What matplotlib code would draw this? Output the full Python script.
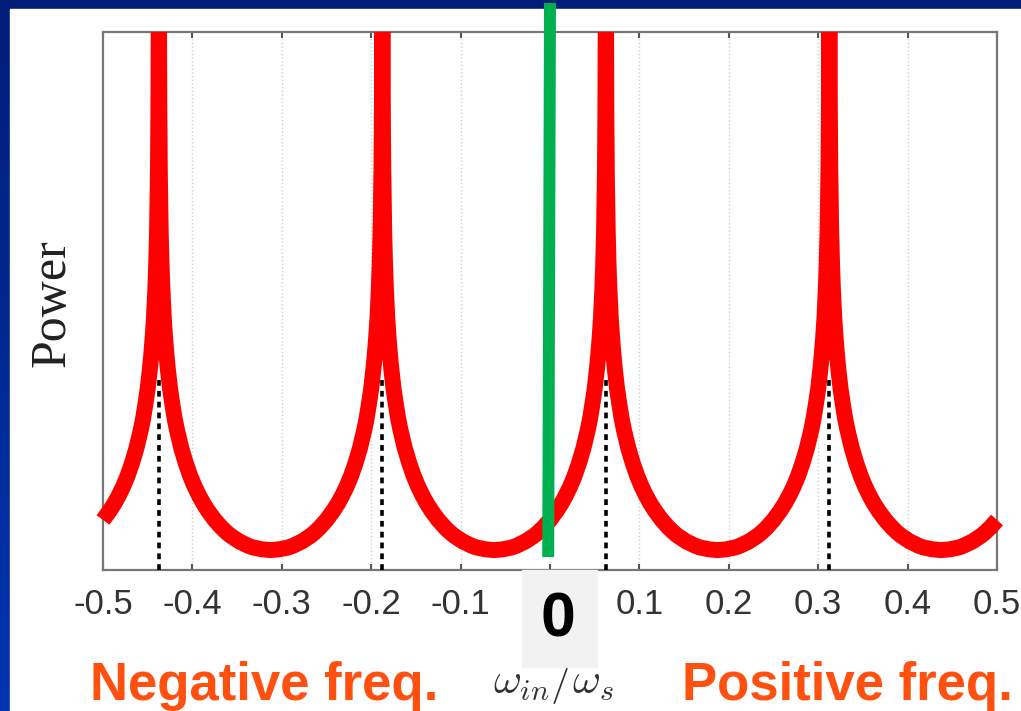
import numpy as np
import matplotlib
matplotlib.use("Agg")
import matplotlib.pyplot as plt
from matplotlib.patches import Rectangle

plt.rcParams['font.family'] = ['Liberation Sans', 'DejaVu Sans']
plt.rcParams['mathtext.fontset'] = 'cm'

# Peak positions (alias frequencies) and the spacing between them
peak_freqs = [-0.4375, -0.1875, 0.0625, 0.3125]
peak_spacing = 0.25

# Shape of one branch: distance from peak -> power (arb. units, 0..100)
branch_offset = [0.0, 0.0005, 0.001, 0.002, 0.003, 0.004, 0.0055, 0.007, 0.0085,
                 0.01, 0.0125, 0.015, 0.0175, 0.02, 0.025, 0.03, 0.035, 0.04,
                 0.045, 0.05, 0.055, 0.0625, 0.07, 0.075, 0.08, 0.09, 0.1,
                 0.105, 0.115, 0.125]
branch_power = [110, 85.7, 74.5, 63.2, 56.7, 52.0, 46.8, 43.1, 40.0,
                37.4, 33.7, 30.9, 28.3, 26.2, 22.7, 19.9, 17.5, 15.5,
                13.8, 12.3, 11.0, 9.3, 7.9, 7.1, 6.4, 5.3, 4.5,
                4.2, 3.85, 3.7]

# Height where the dotted markers stop
marker_top = 35.3

xticks = [-0.5, -0.4, -0.3, -0.2, -0.1, 0.0, 0.1, 0.2, 0.3, 0.4, 0.5]
# the centre label is covered by the grey "0" box on the slide
xticklabels = ['-0.5', '-0.4', '-0.3', '-0.2', '-0.1', '', '0.1', '0.2', '0.3', '0.4', '0.5']

# green "zero" marker (slightly slanted like on the slide)
zero_line_x = [0.0, -0.002]
zero_line_y = [105.4, 2.4]

# build the curve from the branch table, one mirrored branch per peak
pts = {}
off = np.array(branch_offset)
pw = np.array(branch_power)
for p in peak_freqs + [peak_freqs[-1] + peak_spacing]:
    for x, y in zip(np.concatenate([p - off, p + off]), np.concatenate([pw, pw])):
        x = round(float(x), 6)
        if -0.5 <= x <= 0.5:
            pts[x] = y
curve_x = np.array(sorted(pts))
curve_y = np.array([pts[x] for x in curve_x])

W, H = 1021, 711
fig = plt.figure(figsize=(W / 100, H / 100), dpi=100)

# slide background: blue gradient with a white panel
bg = fig.add_axes([0, 0, 1, 1], zorder=-10)
grad = np.linspace(0, 1, 256).reshape(-1, 1)
cmap = matplotlib.colors.LinearSegmentedColormap.from_list('slide', ['#001e78', '#0034b0'])
bg.imshow(grad, aspect='auto', cmap=cmap, extent=[0, 1, 0, 1])
bg.add_patch(Rectangle((10 / W, 0), 1, 1 - 9 / H, color='white', transform=bg.transAxes))
bg.set_xlim(0, 1)
bg.set_ylim(0, 1)
bg.axis('off')

ax = fig.add_axes([103 / W, 141 / H, 894 / W, 538 / H])
ax.set_xlim(-0.5, 0.5)
ax.set_ylim(0, 100)
ax.set_facecolor('white')

for x in xticks[1:-1]:
    ax.axvline(x, color='#cfcfcf', lw=1, ls=':', zorder=1)

line, = ax.plot(curve_x, curve_y, color='#ff0000', lw=11.5, solid_capstyle='butt',
                solid_joinstyle='round', zorder=3)
clip = Rectangle((-0.02, -0.1), 1.04, 1.1, transform=ax.transAxes)
line.set_clip_path(clip)

ax.vlines(peak_freqs, 0, marker_top, colors='black', lw=2.6,
          linestyles=(0, (1.6, 1.4)), zorder=4)

ax.plot(zero_line_x, zero_line_y, color='#00b050', lw=8.6, solid_capstyle='butt',
        clip_on=False, zorder=6)

ax.set_xticks(xticks)
ax.set_xticklabels(xticklabels)
ax.set_yticks([])
ax.tick_params(axis='x', direction='in', top=True, length=4.5, width=1.5,
               color='#555555', labelsize=25, labelcolor='#333333', pad=13)
for s in ax.spines.values():
    s.set_color('#777777')
    s.set_linewidth(1.6)

# grey box with a bold zero over the centre tick
fig.patches.append(Rectangle((522 / W, 1 - 667 / H), 75 / W, 97 / H, color='#f2f2f2',
                             transform=fig.transFigure, zorder=5))
fig.text(558 / W, 1 - 620 / H, '0', ha='center', va='center', fontsize=45,
         fontweight='bold', color='black', zorder=6)

fig.text(52 / W, 1 - 303 / H, 'Power', rotation=90, ha='center', va='center',
         fontsize=36, family=['Liberation Serif', 'DejaVu Serif'], color='#222222')
fig.text(553 / W, 1 - 682 / H, r'$\omega_{in}/\omega_s$', ha='center', va='center',
         fontsize=31, color='#333333')

fig.text(90 / W, 11 / H, 'Negative freq.', ha='left', va='baseline', fontsize=38,
         fontweight='bold', color='#ff5010')
fig.text(682 / W, 11 / H, 'Positive freq.', ha='left', va='baseline', fontsize=38,
         fontweight='bold', color='#ff5010')

fig.savefig('out.png', dpi=100)
